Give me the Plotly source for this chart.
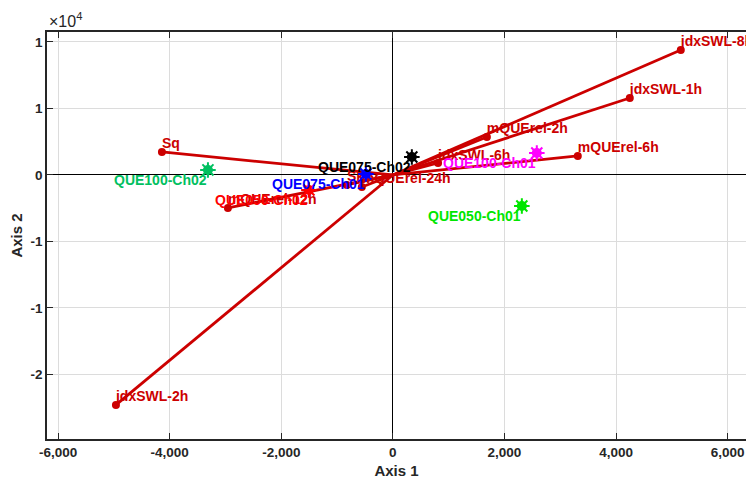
import plotly.graph_objects as go

# Variable loadings (vectors from origin)
var_names = ["Sq", "jdxSWL-8h", "jdxSWL-1h", "mQUErel-6h", "mQUErel-2h", "jdxSWL-6h",
             "mQUErel-24h", "Sk", "jdxSWL-2h", "mQUErel-12h"]
var_x = [-4140, 5161, 4247, 3315, 1685, 810, -556, -824, -4964, -2957]
var_y = [1730, 9400, 5790, 1430, 2860, 900, -900, -750, -17290, -2480]

# Observation scores
obs_names = ["QUE100-Ch02", "QUE075-Ch02", "QUE075-Ch01", "QUE100-Ch01", "QUE050-Ch01", "QUE050-Ch02"]
obs_x = [-3315, 340, -484, 2580, 2312, -1505]
obs_y = [380, 1350, 75, 1650, -2330, -1130]
obs_colors = ["#00C060", "#000000", "#0000FF", "#FF00FF", "#00E600", "#FF0000"]

x_ticks = [-6000, -4000, -2000, 0, 2000, 4000, 6000]
x_tick_text = ["-6,000", "-4,000", "-2,000", "0", "2,000", "4,000", "6,000"]
y_ticks = [-15000, -10000, -5000, 0, 5000, 10000]
y_tick_text = ["-2", "-1", "-1", "0", "1", "1"]

VAR_COLOR = "#CC0000"
FONT = "Liberation Sans, Arial, sans-serif"

fig = go.Figure()

# vector lines
lx, ly = [], []
for vx, vy in zip(var_x, var_y):
    lx += [0, vx, None]
    ly += [0, vy, None]
fig.add_trace(go.Scatter(x=lx, y=ly, mode="lines",
                         line=dict(color=VAR_COLOR, width=2.8), hoverinfo="skip",
                         showlegend=False))
# endpoints
fig.add_trace(go.Scatter(x=var_x, y=var_y, mode="markers",
                         marker=dict(color=VAR_COLOR, size=8), showlegend=False))
# variable labels
fig.add_trace(go.Scatter(x=var_x, y=var_y, mode="text", text=var_names,
                         textposition="top right",
                         textfont=dict(family=FONT, size=14, color=VAR_COLOR, weight="bold"),
                         showlegend=False))

# observations
fig.add_trace(go.Scatter(x=obs_x, y=obs_y, mode="markers",
                         marker=dict(color=obs_colors, size=10, symbol="circle"),
                         showlegend=False))
fig.add_trace(go.Scatter(x=obs_x, y=obs_y, mode="markers",
                         marker=dict(color=obs_colors, size=13, symbol="asterisk-open",
                                     line=dict(color=obs_colors, width=2)),
                         showlegend=False))
for name, ox, oy, col in zip(obs_names, obs_x, obs_y, obs_colors):
    fig.add_annotation(x=ox, y=oy, text=name, showarrow=False,
                       xanchor="right", yanchor="top", xshift=1, yshift=0,
                       font=dict(family=FONT, size=14, color=col, weight="bold"))

axis_common = dict(
    showgrid=True, gridcolor="#DCDCDC", gridwidth=1,
    zeroline=True, zerolinecolor="#000000", zerolinewidth=1.3,
    showline=True, linecolor="#262626", linewidth=1.6,
    ticks="inside", ticklen=6, tickcolor="#262626", tickwidth=1.3,
    tickfont=dict(family=FONT, size=13.5, color="#262626", weight="bold"),
)

fig.update_xaxes(range=[-6200, 6330], tickvals=x_ticks, ticktext=x_tick_text,
                 mirror="ticks",
                 title=dict(text="Axis 1", font=dict(family=FONT, size=15, color="#262626", weight="bold"),
                            standoff=6),
                 **axis_common)
fig.update_yaxes(range=[-19850, 10750], tickvals=y_ticks, ticktext=y_tick_text,
                 mirror=False,
                 title=dict(text="Axis 2", font=dict(family=FONT, size=15, color="#262626", weight="bold"),
                            standoff=4),
                 **axis_common)

fig.add_annotation(xref="paper", yref="paper", x=0, y=1, xanchor="left", yanchor="bottom",
                   text="×10<sup>4</sup>", showarrow=False, yshift=0,
                   font=dict(family=FONT, size=16, color="#262626"))

fig.update_layout(width=746, height=480,
                  margin=dict(l=47, r=0, t=32, b=41),
                  plot_bgcolor="white", paper_bgcolor="white")

fig.write_html("out.html")
